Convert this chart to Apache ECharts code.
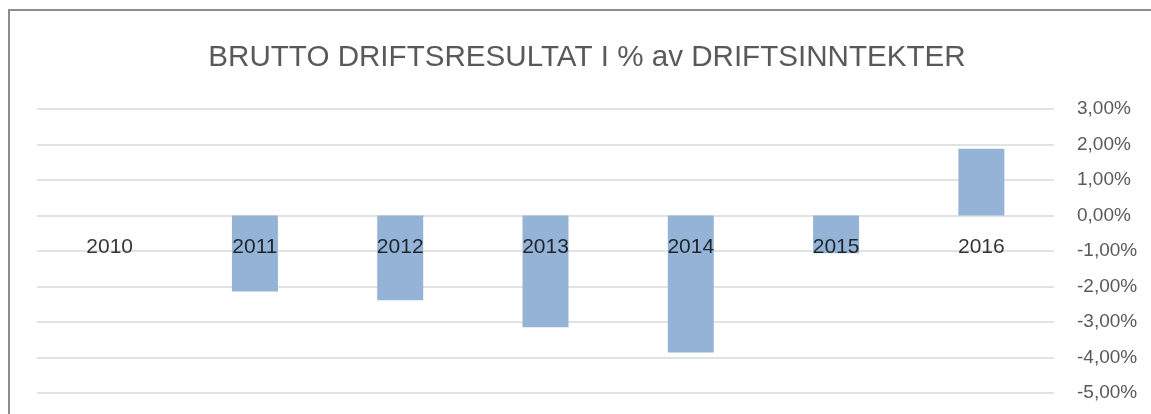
<!DOCTYPE html>
<html>
<head>
<meta charset="utf-8">
<title>Brutto driftsresultat</title>
<script src="https://cdn.jsdelivr.net/npm/echarts@6/dist/echarts.min.js"></script>
<style>
  html, body { margin: 0; padding: 0; background: #fff; }
  #chart { width: 1151px; height: 414px; }
</style>
</head>
<body>
<div id="chart"></div>
<script>
// data
var years = ['2010', '2011', '2012', '2013', '2014', '2015', '2016'];
var resultPct = [0, -2.14, -2.39, -3.15, -3.86, -1.06, 1.88];

// category labels sit just under the zero line, like Excel does
var labelAnchors = years.map(function (y) { return [y, 0]; });

var chart = echarts.init(document.getElementById('chart'));

var option = {
  animation: false,
  backgroundColor: '#fff',
  textStyle: { fontFamily: 'Liberation Sans' },
  title: {
    text: 'BRUTTO DRIFTSRESULTAT I % av DRIFTSINNTEKTER',
    left: 582,
    top: 38,
    textAlign: 'center',
    textStyle: {
      color: '#595959',
      fontWeight: 'normal',
      fontSize: 29.6,
      fontFamily: 'Liberation Sans'
    }
  },
  graphic: [
    {
      // chart frame, only left and top edges are visible
      type: 'rect',
      shape: { x: 9, y: 10, width: 1300, height: 600 },
      style: { fill: 'none', stroke: '#8c8c8c', lineWidth: 2 },
      silent: true
    }
  ],
  grid: {
    left: 37,
    right: 97,
    top: 109,
    bottom: 21,
    outerBoundsMode: 'none'
  },
  xAxis: {
    type: 'category',
    data: years,
    axisLine: { show: false },
    axisTick: { show: false },
    axisLabel: { show: false },
    splitLine: { show: false }
  },
  yAxis: {
    type: 'value',
    position: 'right',
    min: -5,
    max: 3,
    interval: 1,
    axisLine: { show: false },
    axisTick: { show: false },
    axisLabel: {
      color: '#595959',
      fontSize: 19,
      margin: 23,
      formatter: function (v) {
        return v.toFixed(2).replace('.', ',') + '%';
      }
    },
    splitLine: { lineStyle: { color: '#d9d9d9', width: 1.5 } }
  },
  series: [
    {
      type: 'bar',
      data: resultPct,
      barWidth: 46,
      itemStyle: { color: '#95b3d7' }
    },
    {
      type: 'scatter',
      data: labelAnchors,
      symbolSize: 0,
      silent: true,
      z: 5,
      label: {
        show: true,
        position: 'bottom',
        distance: 21,
        color: '#000',
        fontSize: 21,
        fontFamily: 'Liberation Sans',
        formatter: function (p) { return p.value[0]; }
      }
    }
  ]
};

chart.setOption(option);
window.addEventListener('resize', function () {
  chart.resize();
});
</script>
</body>
</html>
